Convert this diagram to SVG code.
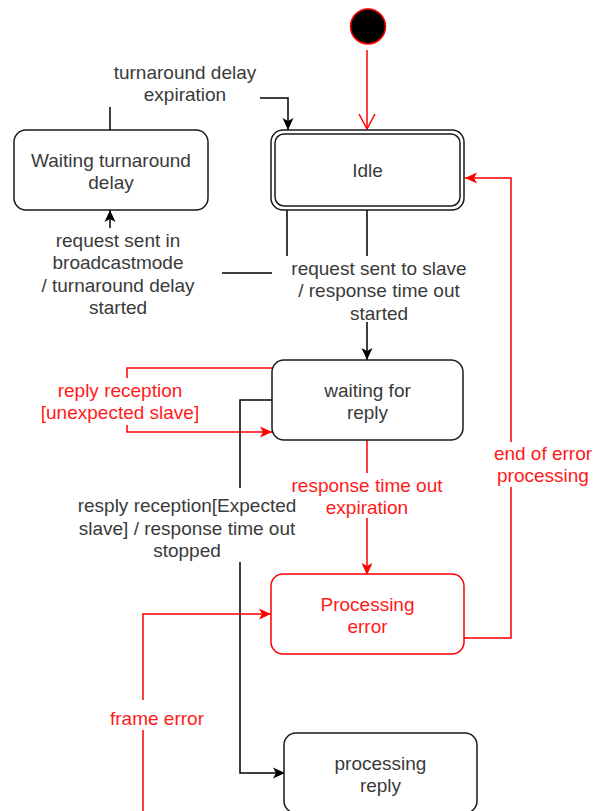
<svg xmlns="http://www.w3.org/2000/svg" width="601" height="811" viewBox="0 0 601 811">
<style>
text{font-family:"Liberation Sans",Arial,sans-serif;font-size:19px;text-anchor:middle;fill:#3a3a3a}
text.r{fill:#ff1a1a}
.box{fill:#ffffff;stroke:#1a1a1a;stroke-width:1.5}
.rbox{fill:#ffffff;stroke:#ff0000;stroke-width:1.5}
.k{fill:none;stroke:#000000;stroke-width:1.5}
.red{fill:none;stroke:#ff0000;stroke-width:1.5}
</style>
<defs>
<marker id="ak" markerUnits="userSpaceOnUse" markerWidth="13" markerHeight="13" viewBox="0 0 13 13" refX="12" refY="6.5" orient="auto">
<path d="M0,1 L12,6.5 L0,12 L3,6.5 z" fill="#000000"/>
</marker>
<marker id="ar" markerUnits="userSpaceOnUse" markerWidth="13" markerHeight="13" viewBox="0 0 13 13" refX="12" refY="6.5" orient="auto">
<path d="M0,1 L12,6.5 L0,12 L3,6.5 z" fill="#ff0000"/>
</marker>
<marker id="ao" markerUnits="userSpaceOnUse" markerWidth="18" markerHeight="18" viewBox="0 0 18 18" refX="16" refY="9" orient="auto">
<path d="M1,1 L16,9 L1,17" fill="none" stroke="#ff0000" stroke-width="1.5"/>
</marker>
</defs>

<g id="connectors">
<path class="red" d="M367,50 V129" marker-end="url(#ao)"/>
<path class="k" d="M110,130 V107 M260,98 H288 V130" marker-end="url(#ak)"/>
<path class="k" d="M287,210 V256 M272,273 H222 M110,228 V210" marker-end="url(#ak)"/>
<path class="k" d="M367,210 V256 M367,322 V360" marker-end="url(#ak)"/>
<path class="red" d="M272,368 H127 V378 M127,425 V432 H272" marker-end="url(#ar)"/>
<path class="k" d="M272,400 H240 V488 M240,562 V773 H285" marker-end="url(#ak)"/>
<path class="red" d="M367,440 V473 M367,518 V575" marker-end="url(#ar)"/>
<path class="red" d="M143,811 V730 M143,700 V614 H271" marker-end="url(#ar)"/>
<path class="red" d="M464,638 H511 V487 M511,442 V178 H465" marker-end="url(#ar)"/>
</g>

<g id="labels">
<text x="185" y="78.5">turnaround delay</text>
<text x="185" y="101">expiration</text>
<text x="118" y="246.5">request sent in</text>
<text x="118" y="269">broadcastmode</text>
<text x="118" y="291.5">/ turnaround delay</text>
<text x="118" y="314">started</text>
<text x="379" y="274.5">request sent to slave</text>
<text x="379" y="297">/ response time out</text>
<text x="379" y="319.5">started</text>
<text class="r" x="120" y="396.5">reply reception</text>
<text class="r" x="120" y="419">[unexpected slave]</text>
<text x="187" y="512">resply reception[Expected</text>
<text x="187" y="534.5">slave] / response time out</text>
<text x="187" y="557">stopped</text>
<text class="r" x="367" y="491.5">response time out</text>
<text class="r" x="367" y="514">expiration</text>
<text class="r" x="543" y="459.5">end of error</text>
<text class="r" x="543" y="482">processing</text>
<text class="r" x="157" y="724.5">frame error</text>
</g>

<g id="initial">
<circle cx="368" cy="26.5" r="17.5" fill="#000000" stroke="#ff0000" stroke-width="1.5"/>
</g>

<g id="idle">
<rect class="box" x="271" y="130" width="193" height="80" rx="12"/>
<rect class="box" x="275" y="134" width="185" height="72" rx="9"/>
<text x="367.5" y="176.5">Idle</text>
</g>

<g id="waiting-turnaround-delay">
<rect class="box" x="14" y="130" width="194" height="80" rx="12"/>
<text x="111" y="166.5">Waiting turnaround</text>
<text x="111" y="189">delay</text>
</g>

<g id="waiting-for-reply">
<rect class="box" x="272" y="360" width="191" height="80" rx="12"/>
<text x="367.5" y="396.5">waiting for</text>
<text x="367.5" y="419">reply</text>
</g>

<g id="processing-error">
<rect class="rbox" x="271" y="574" width="193" height="80" rx="12"/>
<text class="r" x="367.5" y="610.5">Processing</text>
<text class="r" x="367.5" y="633">error</text>
</g>

<g id="processing-reply">
<rect class="box" x="284" y="733" width="193" height="80" rx="12"/>
<text x="380.5" y="769.5">processing</text>
<text x="380.5" y="792">reply</text>
</g>
</svg>
